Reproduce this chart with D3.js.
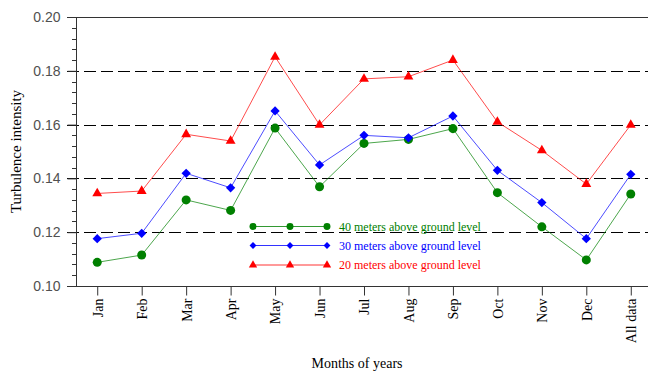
<!DOCTYPE html>
<html>
<head>
<meta charset="utf-8">
<script src="https://cdn.jsdelivr.net/npm/d3@7"></script>
<style>
  html, body { margin: 0; padding: 0; background: #fff; }
  svg { display: block; }
</style>
</head>
<body>
<svg id="chart" width="648" height="374"></svg>
<script>
// Monthly turbulence intensity at three measurement heights
const categories = ["Jan", "Feb", "Mar", "Apr", "May", "Jun", "Jul", "Aug", "Sep", "Oct", "Nov", "Dec", "All data"];
const ti40 = [0.1088, 0.1115, 0.1320, 0.1281, 0.1587, 0.1369, 0.1530, 0.1545, 0.1585, 0.1347, 0.1220, 0.1097, 0.1342];
const ti30 = [0.1176, 0.1196, 0.1419, 0.1365, 0.1651, 0.1450, 0.1560, 0.1551, 0.1632, 0.1430, 0.1310, 0.1176, 0.1415];
const ti20 = [0.1344, 0.1353, 0.1564, 0.1539, 0.1852, 0.1599, 0.1770, 0.1778, 0.1840, 0.1610, 0.1504, 0.1379, 0.1599];
const seriesNames = ["40 meters above ground level", "30 meters above ground level", "20 meters above ground level"];
const yTicks = [0.10, 0.12, 0.14, 0.16, 0.18, 0.20];
const gridValues = [0.12, 0.14, 0.16, 0.18];

const series = [
  { name: seriesNames[0], values: ti40, color: "#008000", symbol: d3.symbolCircle, size: 64, legendSize: 38 },
  { name: seriesNames[1], values: ti30, color: "#0000ff", symbol: d3.symbolDiamond2, size: 55, legendSize: 30 },
  { name: seriesNames[2], values: ti20, color: "#ff0000", symbol: d3.symbolTriangle, size: 42, legendSize: 30 }
];

const plotLeft = 76, plotTop = 17, plotBottom = 286, plotRight = 648;
const serif = "'Liberation Serif', 'Times New Roman', serif";
const sans = "'Liberation Sans', Arial, sans-serif";

const svg = d3.select("#chart");

const x = d3.scalePoint().domain(categories).range([75, 653]).padding(0.5);
const y = d3.scaleLinear().domain([0.10, 0.20]).range([plotBottom, plotTop]);

// dashed horizontal grid
svg.append("g")
  .selectAll("line")
  .data(gridValues)
  .join("line")
  .attr("x1", 67).attr("x2", plotRight)
  .attr("y1", d => Math.round(y(d)) + 0.5)
  .attr("y2", d => Math.round(y(d)) + 0.5)
  .attr("stroke", "#000")
  .attr("stroke-width", 1)
  .attr("stroke-dasharray", "12,5");

// left axis with major and minor ticks
const yAxis = d3.axisLeft(y)
  .tickValues(yTicks)
  .tickFormat(d3.format(".2f"))
  .tickSize(9)
  .tickPadding(7);
const gy = svg.append("g").attr("transform", `translate(${plotLeft + 0.5},0)`).call(yAxis);
gy.select(".domain").remove();
gy.selectAll(".tick line").attr("stroke", "#333");
gy.selectAll(".tick text")
  .attr("fill", "#505050")
  .style("font-family", sans)
  .style("font-size", "14px");

const minor = d3.range(0.10, 0.2001, 0.004).filter(v => Math.abs(v * 50 - Math.round(v * 50)) > 1e-6);
svg.append("g")
  .selectAll("line")
  .data(minor)
  .join("line")
  .attr("x1", plotLeft - 4).attr("x2", plotLeft)
  .attr("y1", d => Math.round(y(d)) + 0.5)
  .attr("y2", d => Math.round(y(d)) + 0.5)
  .attr("stroke", "#333");

// frame lines: left axis, top and bottom edges
svg.append("line").attr("x1", plotLeft + 0.5).attr("x2", plotLeft + 0.5).attr("y1", plotTop).attr("y2", plotBottom + 1).attr("stroke", "#333");
svg.append("line").attr("x1", 67).attr("x2", plotRight).attr("y1", plotTop + 0.5).attr("y2", plotTop + 0.5).attr("stroke", "#333");
svg.append("line").attr("x1", 67).attr("x2", plotRight).attr("y1", plotBottom + 0.5).attr("y2", plotBottom + 0.5).attr("stroke", "#333");

// bottom axis
const xAxis = d3.axisBottom(x).tickSize(9).tickPadding(4);
const gx = svg.append("g").attr("transform", `translate(0,${plotBottom + 0.5})`).call(xAxis);
gx.select(".domain").remove();
gx.selectAll(".tick line").attr("stroke", "#333");
gx.selectAll(".tick text")
  .attr("fill", "#000")
  .style("font-family", serif)
  .style("font-size", "14px")
  .attr("transform", "rotate(-90)")
  .attr("text-anchor", "end")
  .attr("x", -12)
  .attr("y", 0)
  .attr("dy", "0.35em");

// series lines and markers
const line = d3.line().x((d, i) => x(categories[i])).y(d => y(d));
series.forEach(s => {
  svg.append("path")
    .datum(s.values)
    .attr("fill", "none")
    .attr("stroke", s.color)
    .attr("stroke-opacity", 0.7)
    .attr("stroke-width", 1)
    .attr("d", line);
  svg.append("g")
    .selectAll("path")
    .data(s.values)
    .join("path")
    .attr("transform", (d, i) => `translate(${x(categories[i])},${y(d)})`)
    .attr("d", d3.symbol().type(s.symbol).size(s.size))
    .attr("fill", s.color);
});

// legend
const legend = svg.append("g");
const legendRows = [226.5, 245.5, 265];
series.forEach((s, i) => {
  const ly = legendRows[i];
  legend.append("line")
    .attr("x1", 253).attr("x2", 327)
    .attr("y1", ly).attr("y2", ly)
    .attr("stroke", s.color).attr("stroke-opacity", 0.8);
  [253, 290, 327].forEach(px => {
    legend.append("path")
      .attr("transform", `translate(${px},${ly})`)
      .attr("d", d3.symbol().type(s.symbol).size(s.legendSize))
      .attr("fill", s.color);
  });
  legend.append("text")
    .attr("x", 339).attr("y", ly)
    .attr("dy", "0.35em")
    .attr("fill", s.color)
    .style("font-family", serif)
    .style("font-size", "12px")
    .text(s.name);
});

// axis titles
svg.append("text")
  .attr("transform", `translate(16,${(plotTop + plotBottom) / 2}) rotate(-90)`)
  .attr("text-anchor", "middle")
  .attr("dy", "0.35em")
  .style("font-family", serif)
  .style("font-size", "15px")
  .text("Turbulence intensity");

svg.append("text")
  .attr("x", 357).attr("y", 368)
  .attr("text-anchor", "middle")
  .style("font-family", serif)
  .style("font-size", "14px")
  .text("Months of years");
</script>
</body>
</html>
